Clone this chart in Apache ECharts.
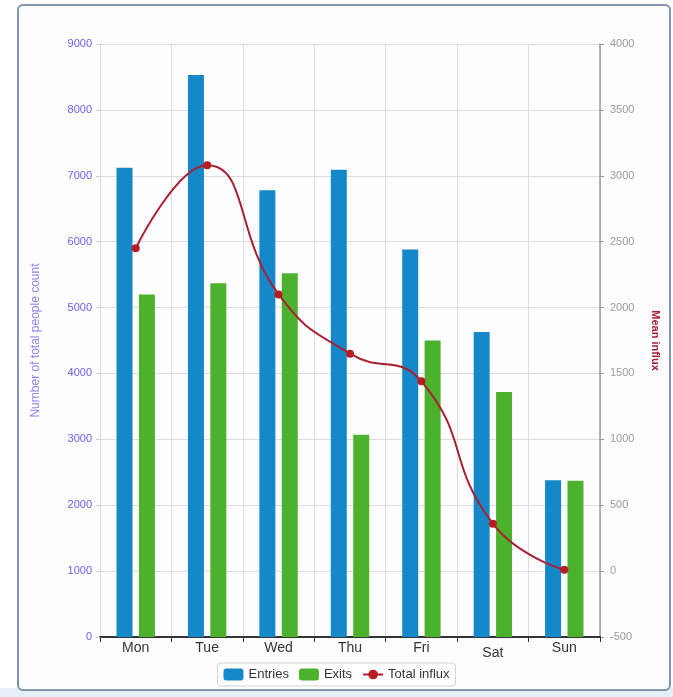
<!DOCTYPE html>
<html>
<head>
<meta charset="utf-8">
<script src="https://cdn.jsdelivr.net/npm/echarts@6/dist/echarts.min.js"></script>
<style>
  html, body { margin: 0; padding: 0; background: #ffffff; }
  #chart { width: 673px; height: 697px; }
</style>
</head>
<body>
<div id="chart"></div>
<script>
// Weekly footfall: entries/exits per day (left axis) and mean influx (right axis)
var days = ['Mon', 'Tue', 'Wed', 'Thu', 'Fri', 'Sat', 'Sun'];
var entries = [7120, 8530, 6780, 7090, 5880, 4630, 2380];
var exits = [5200, 5370, 5520, 3070, 4500, 3720, 2370];
var totalInflux = [2450, 3080, 2100, 1650, 1440, 360, 10];

var leftTicks = { min: 0, max: 9000, interval: 1000 };
var rightTicks = { min: -500, max: 4000, interval: 500 };

var font = 'Liberation Sans, Arial, sans-serif';
var plain = function (v) { return String(v); };

var chart = echarts.init(document.getElementById('chart'), null, { renderer: 'canvas' });

var categoryData = days.map(function (d) {
  // the weekend label sits a little lower on the axis
  return d === 'Sat' ? { value: d, textStyle: { padding: [5, 0, 0, 0] } } : d;
});

chart.setOption({
  backgroundColor: '#ffffff',
  animation: false,
  graphic: [
    {
      type: 'rect',
      shape: { x: 0, y: 688, width: 673, height: 9 },
      style: { fill: '#e6eef8' },
      z: -2
    },
    {
      type: 'rect',
      shape: { x: 18, y: 5, width: 652, height: 685, r: 5 },
      style: { fill: '#fefdff', stroke: '#8194b4', lineWidth: 2 },
      z: -1
    }
  ],
  grid: { left: 100, right: 73, top: 44, bottom: 60, containLabel: false },
  legend: {
    bottom: 11,
    left: 'center',
    itemWidth: 20,
    itemHeight: 12,
    itemGap: 10,
    padding: [5, 6],
    borderColor: '#d4d4d4',
    borderWidth: 1,
    borderRadius: 3,
    backgroundColor: '#ffffff',
    textStyle: { fontFamily: font, fontSize: 13, color: '#333333' },
    data: [
      { name: 'Entries', icon: 'roundRect' },
      { name: 'Exits', icon: 'roundRect' },
      { name: 'Total influx' }
    ]
  },
  xAxis: {
    type: 'category',
    data: categoryData,
    boundaryGap: true,
    axisLine: { lineStyle: { color: '#333333', width: 2 } },
    axisTick: { show: true, alignWithLabel: false, length: 5, lineStyle: { color: '#333333' } },
    axisLabel: { fontFamily: font, fontSize: 14, color: '#333333', margin: 4 },
    splitLine: { show: true, lineStyle: { color: '#dcdcdc' } }
  },
  yAxis: [
    {
      type: 'value',
      min: leftTicks.min,
      max: leftTicks.max,
      interval: leftTicks.interval,
      name: 'Number of total people count',
      nameLocation: 'middle',
      nameGap: 58,
      nameRotate: 90,
      nameTextStyle: { fontFamily: font, fontSize: 12, color: '#8c84f0' },
      axisLine: { show: true, lineStyle: { color: '#d8d8d8' } },
      axisTick: { show: true, length: 4, lineStyle: { color: '#cccccc' } },
      axisLabel: { fontFamily: font, fontSize: 11, color: '#6b5ff5', margin: 8, formatter: plain },
      splitLine: { show: true, lineStyle: { color: '#dcdcdc' } }
    },
    {
      type: 'value',
      min: rightTicks.min,
      max: rightTicks.max,
      interval: rightTicks.interval,
      position: 'right',
      name: 'Mean influx',
      nameLocation: 'middle',
      nameGap: 50,
      nameRotate: -90,
      nameTextStyle: { fontFamily: font, fontSize: 11, fontWeight: 'bold', color: '#a81c34' },
      axisLine: { show: true, lineStyle: { color: '#999999', width: 1.5 } },
      axisTick: { show: true, length: 4, lineStyle: { color: '#999999' } },
      axisLabel: { fontFamily: font, fontSize: 11, color: '#9a9a9a', margin: 10, formatter: plain },
      splitLine: { show: false }
    }
  ],
  series: [
    {
      name: 'Entries',
      type: 'bar',
      yAxisIndex: 0,
      data: entries,
      barWidth: 16,
      barGap: '40%',
      itemStyle: { color: '#1488c8' }
    },
    {
      name: 'Exits',
      type: 'bar',
      yAxisIndex: 0,
      data: exits,
      barWidth: 16,
      itemStyle: { color: '#4cb22e' }
    },
    {
      name: 'Total influx',
      type: 'line',
      yAxisIndex: 1,
      data: totalInflux,
      smooth: 0.5,
      symbol: 'circle',
      symbolSize: 8,
      lineStyle: { color: '#a82030', width: 2 },
      itemStyle: { color: '#b81c24' },
      z: 5
    }
  ]
});
</script>
</body>
</html>
